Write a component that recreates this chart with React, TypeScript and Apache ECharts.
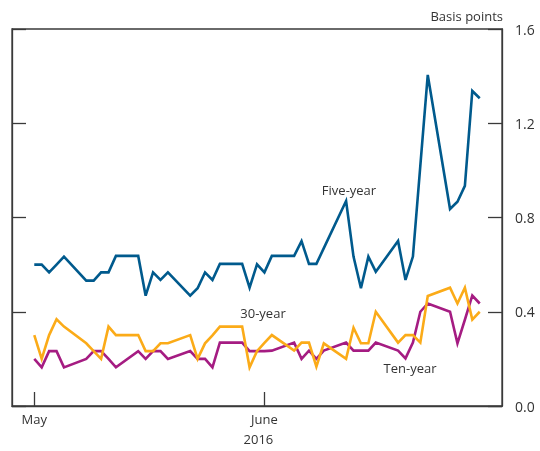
import React, { useEffect, useRef } from "react";
import * as echarts from "echarts";

// Trading dates (picture shows days counted from 1 May 2016)
const dates: string[] = [
  "2016-05-01", "2016-05-02", "2016-05-03", "2016-05-04", "2016-05-05",
  "2016-05-08", "2016-05-09", "2016-05-10", "2016-05-11", "2016-05-12",
  "2016-05-15", "2016-05-16", "2016-05-17", "2016-05-18", "2016-05-19",
  "2016-05-22", "2016-05-23", "2016-05-24", "2016-05-25", "2016-05-26",
  "2016-05-29", "2016-05-30", "2016-05-31", "2016-06-01", "2016-06-02",
  "2016-06-05", "2016-06-06", "2016-06-07", "2016-06-08", "2016-06-09",
  "2016-06-12", "2016-06-13", "2016-06-14", "2016-06-15", "2016-06-16",
  "2016-06-19", "2016-06-20", "2016-06-21", "2016-06-22", "2016-06-23",
  "2016-06-26", "2016-06-27", "2016-06-28", "2016-06-29", "2016-06-30",
];

const fiveYear: number[] = [
  0.6, 0.6, 0.567, 0.6, 0.634,
  0.532, 0.532, 0.567, 0.567, 0.637,
  0.637, 0.468, 0.567, 0.535, 0.567,
  0.468, 0.5, 0.567, 0.535, 0.603,
  0.603, 0.502, 0.601, 0.567, 0.637,
  0.637, 0.7, 0.603, 0.603, 0.67,
  0.87, 0.634, 0.5, 0.634, 0.57,
  0.7, 0.535, 0.634, 1.02, 1.405,
  0.836, 0.867, 0.934, 1.337, 1.306,
];

const thirtyYear: number[] = [
  0.301, 0.2, 0.301, 0.368, 0.337,
  0.266, 0.233, 0.2, 0.337, 0.301,
  0.301, 0.233, 0.233, 0.266, 0.266,
  0.301, 0.2, 0.266, 0.3, 0.337,
  0.337, 0.164, 0.233, 0.268, 0.301,
  0.235, 0.269, 0.269, 0.167, 0.266,
  0.2, 0.332, 0.266, 0.266, 0.4,
  0.269, 0.301, 0.301, 0.269, 0.467,
  0.502, 0.435, 0.502, 0.367, 0.4,
];

const tenYear: number[] = [
  0.2, 0.164, 0.233, 0.233, 0.164,
  0.2, 0.233, 0.233, 0.2, 0.164,
  0.233, 0.2, 0.233, 0.233, 0.2,
  0.233, 0.2, 0.2, 0.164, 0.269,
  0.269, 0.233, 0.233, 0.233, 0.235,
  0.269, 0.2, 0.235, 0.2, 0.235,
  0.269, 0.235, 0.235, 0.235, 0.269,
  0.235, 0.202, 0.269, 0.4, 0.435,
  0.4, 0.266, 0.366, 0.469, 0.435,
];

const xRange: string[] = ["2016-04-28", "2016-07-03"];
const monthTicks: string[] = ["2016-05-01", "2016-06-01"];
const monthLabels: string[] = ["May", "June\n{y|2016}"];
const yTicks: number[] = [0, 0.4, 0.8, 1.2, 1.6];

const BASE = Date.UTC(2016, 4, 1);
// day number counted from 1 May 2016
const toDay = (s: string) => {
  const [y, m, d] = s.split("-").map(Number);
  return Math.round((Date.UTC(y, m - 1, d) - BASE) / 86400000);
};

const FONT = "'Open Sans', 'Noto Sans', sans-serif";
const TXT = "#333333";
const AX = "#3a3a3a";

export default function App() {
  const ref = useRef<HTMLDivElement>(null);
  useEffect(() => {
    if (!ref.current) return;
    const chart = echarts.init(ref.current, null, { renderer: "svg" });
    const tickDays = monthTicks.map(toDay);
    const mk = (vals: number[]) => dates.map((d, i) => [toDay(d), vals[i]]);
    const lineSeries = (name: string, vals: number[], color: string) => ({
      name,
      type: "line",
      data: mk(vals),
      showSymbol: false,
      symbol: "none",
      lineStyle: { color, width: 2.6, join: "miter" },
      itemStyle: { color },
      yAxisIndex: 0,
    });
    chart.setOption({
      animation: false,
      textStyle: { fontFamily: FONT },
      grid: {
        left: 12,
        top: 29,
        width: 490,
        height: 377,
        containLabel: false,
        outerBoundsMode: "none",
        show: true,
        borderColor: AX,
        borderWidth: 1.3,
        backgroundColor: "transparent",
      },
      xAxis: {
        type: "value",
        min: toDay(xRange[0]),
        max: toDay(xRange[1]),
        axisLine: { show: true, onZero: false, lineStyle: { color: AX, width: 1.3 } },
        axisTick: {
          show: true,
          inside: true,
          length: 14,
          customValues: tickDays,
          lineStyle: { color: AX, width: 1.3 },
        },
        axisLabel: {
          show: true,
          customValues: tickDays,
          margin: 3,
          color: TXT,
          fontSize: 13,
          fontFamily: FONT,
          lineHeight: 20,
          formatter: (v: number) => {
            const i = tickDays.indexOf(Math.round(v));
            return i >= 0 ? monthLabels[i] : "";
          },
          rich: {
            y: { fontSize: 13, color: TXT, fontFamily: FONT, lineHeight: 20, padding: [0, 12, 0, 0] },
          },
        },
        splitLine: { show: false },
      },
      yAxis: [
        {
          type: "value",
          position: "right",
          min: 0,
          max: 1.6,
          interval: 0.4,
          axisLine: { show: true, onZero: false, lineStyle: { color: AX, width: 1.3 } },
          axisTick: { show: true, inside: true, length: 14, lineStyle: { color: AX, width: 1.3 } },
          axisLabel: {
            color: TXT,
            fontSize: 14,
            fontFamily: FONT,
            margin: 13,
            formatter: (v: number) => (yTicks.includes(Math.round(v * 10) / 10) ? v.toFixed(1) : ""),
          },
          splitLine: { show: false },
        },
        {
          type: "value",
          position: "left",
          min: 0,
          max: 1.6,
          interval: 0.4,
          axisLine: { show: true, onZero: false, lineStyle: { color: AX, width: 1.3 } },
          axisTick: { show: true, inside: true, length: 14, lineStyle: { color: AX, width: 1.3 } },
          axisLabel: { show: false },
          splitLine: { show: false },
        },
      ],
      series: [
        lineSeries("Ten-year", tenYear, "#a51c82"),
        lineSeries("30-year", thirtyYear, "#fbab18"),
        lineSeries("Five-year", fiveYear, "#005a8d"),
      ],
      graphic: [
        { type: "text", x: 503, y: 16, style: { text: "Basis points", fill: TXT, font: `13px ${FONT}`, align: "right", verticalAlign: "middle" } },
        { type: "text", x: 349, y: 190, style: { text: "Five-year", fill: TXT, font: `13px ${FONT}`, align: "center", verticalAlign: "middle" } },
        { type: "text", x: 263, y: 313, style: { text: "30-year", fill: TXT, font: `13px ${FONT}`, align: "center", verticalAlign: "middle" } },
        { type: "text", x: 410, y: 368, style: { text: "Ten-year", fill: TXT, font: `13px ${FONT}`, align: "center", verticalAlign: "middle" } },
      ],
    });
    return () => chart.dispose();
  }, []);
  return (
    <div
      ref={ref}
      style={{ position: "fixed", left: 0, top: 0, width: 540, height: 451 }}
    />
  );
}
